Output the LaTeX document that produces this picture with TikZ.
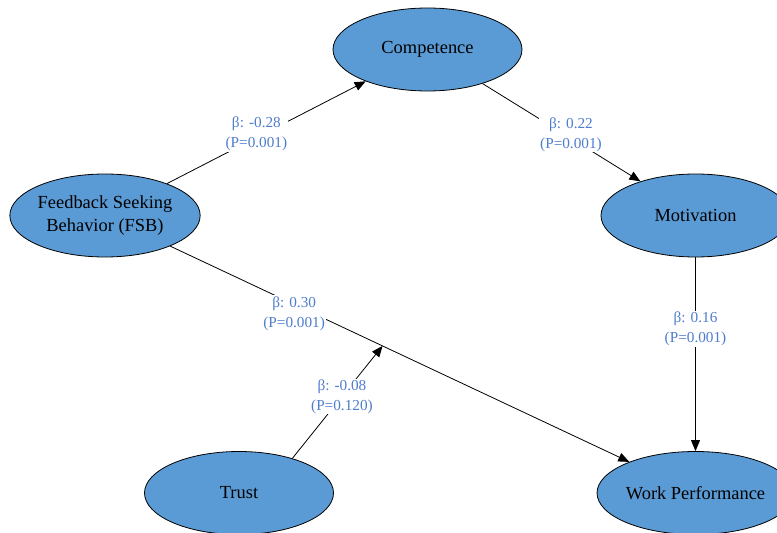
\documentclass[tikz,border=0pt]{standalone}
\usepackage{fontspec}
\setmainfont{Liberation Serif}
\usetikzlibrary{arrows.meta,calc,shapes.geometric}
\definecolor{nodefill}{RGB}{91,155,213}
\definecolor{labelblue}{RGB}{79,125,205}
\begin{document}
\begin{tikzpicture}[x=1bp,y=-1bp,
  construct/.style={ellipse,draw=black,line width=0.8bp,fill=nodefill,minimum width=189bp,minimum height=83bp,inner sep=0pt,align=center,font=\fontsize{18.5}{23}\selectfont},
  conn/.style={draw=black,line width=0.8bp},
  arr/.style={-{Triangle[length=11bp,width=9bp]}},
  coef/.style={fill=white,inner sep=1bp,align=center,text=labelblue,font=\fontsize{15.3}{20}\selectfont}]
\useasboundingbox (0,0) rectangle (777,533);
\node[construct] (comp) at (427.5,49.5) {Competence};
\node[construct] (fsb) at (105,215.5) {Feedback Seeking\\Behavior (FSB)};
\node[construct] (mot) at (695.5,215.5) {Motivation};
\node[construct] (wp) at (695.5,493) {Work Performance};
\node[construct] (trust) at (239,493) {Trust};
\coordinate (m) at ($(fsb)!0.47!(wp)$);
\draw[conn,arr] (fsb) -- node[coef,pos=0.45,yshift=4bp] {β: -0.28\\(P=0.001)} (comp);
\draw[conn,arr] (comp) -- node[coef,pos=0.56,yshift=4bp] {β: 0.22\\(P=0.001)} (mot);
\draw[conn,arr] (mot) -- node[coef,pos=0.37] {β: 0.16\\(P=0.001)} (wp);
\draw[conn,arr] (fsb) -- node[coef,pos=0.27,yshift=-9bp] {β: 0.30\\(P=0.001)} (wp);
\draw[conn,arr] (trust.33) -- node[coef,pos=0.55] {β: -0.08\\(P=0.120)} (m);
\end{tikzpicture}
\end{document}
